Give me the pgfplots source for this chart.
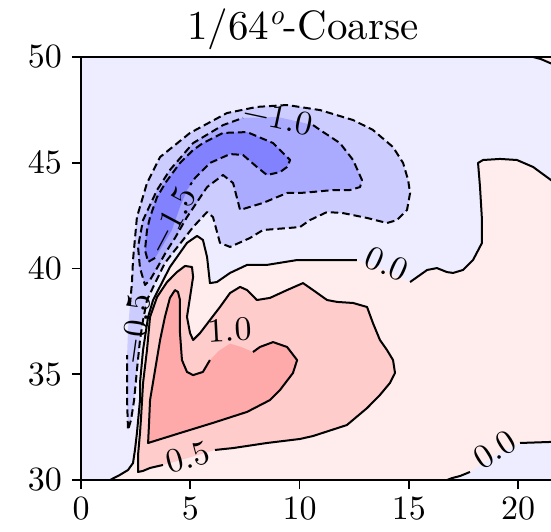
\documentclass[border=0pt]{standalone}
\usepackage{pgfplots}
\pgfplotsset{compat=1.18}
\font\tickf="[lmroman10-regular]" at 34pt
\font\titlef="[lmroman10-regular]" at 41pt
\font\titlesup="[lmroman10-italic]" at 29pt
\definecolor{nbg}{RGB}{237,237,255}
\definecolor{nA}{RGB}{204,204,255}
\definecolor{nB}{RGB}{170,170,255}
\definecolor{nC}{RGB}{130,130,255}
\definecolor{pA}{RGB}{255,237,237}
\definecolor{pB}{RGB}{255,204,204}
\definecolor{pC}{RGB}{255,170,170}
\begin{document}
\begin{tikzpicture}
\begin{axis}[
  name=ax, at={(0,0)}, anchor=south west,
  scale only axis, width=472pt, height=423pt,
  xmin=0, xmax=21.6, ymin=30, ymax=50,
  xtick={0,5,10,15,20}, ytick={30,35,40,45,50},
  xtick pos=left, ytick pos=left,
  tick align=outside, major tick length=9pt,
  tick style={black, line width=1.8pt},
  axis line style={line width=1.8pt},
  /pgf/number format/assume math mode=true,
  ticklabel style={font=\tickf},
  xticklabel style={inner sep=8pt},
  yticklabel style={inner sep=10pt},
  axis on top, no markers,
  title={\titlef 1/64\raisebox{15pt}{\titlesup o}-Coarse},
  title style={at={(0.47,1)}, anchor=base, yshift=11pt, inner sep=0pt},
  cont/.style={black, line width=2pt, line join=round, line cap=butt},
  dcont/.style={black, line width=2pt, line join=round, dash pattern=on 7.5pt off 4pt},
]
% ---------- filled bands ----------
\addplot[draw=none, fill=nbg] coordinates {(0,30) (22,30) (22,50) (0,50)};
% 0.0 contour (positive region)
\addplot[draw=none, fill=pA] coordinates {(1.33,30.0) (1.78,30.24) (2.15,30.47) (2.38,30.80) (2.47,31.42) (2.56,32.22) (2.70,33.78) (2.70,34.59) (2.84,36.15) (3.07,37.71) (3.30,38.51) (4.07,40.07) (4.85,41.21) (5.31,41.54) (5.58,41.35) (5.77,40.54) (5.90,39.31) (6.22,39.36) (6.82,39.79) (7.60,40.17) (8.51,40.17) (9.89,40.40) (11.53,40.40) (12.63,40.40) (13.91,39.93) (15.06,39.36) (15.84,39.93) (16.29,40.02) (16.75,39.83) (17.03,39.79) (17.48,39.93) (17.94,40.40) (18.35,41.21) (18.35,42.29) (18.26,43.85) (18.17,44.99) (18.40,45.13) (19.18,45.18) (19.95,45.13) (20.69,44.80) (21.51,44.18) (22,43.8) (22,31.8) (21.51,31.80) (20.09,31.75) (18.95,31.18) (17.80,30.38) (17.35,30.19) (16.98,30.09) (16.75,30.0)};
\addplot[draw=none, fill=pA] coordinates {(20.69,50) (21.05,49.9) (21.5,49.7) (22,49.5) (22,50)};
% 0.5 contour
\addplot[draw=none, fill=pB] coordinates {(2.61,30.38) (2.84,30.43) (3.16,30.57) (3.75,30.71) (4.90,31.04) (6.13,31.42) (6.96,31.51) (8.51,31.75) (10.02,31.94) (10.62,32.08) (12.17,32.60) (13.09,33.40) (13.68,34.02) (14.14,34.59) (14.37,35.06) (14.28,35.67) (14.00,36.15) (13.68,36.62) (13.36,37.42) (13.09,38.18) (12.45,38.37) (11.72,38.42) (11.26,38.51) (10.62,38.98) (10.16,39.31) (9.43,38.98) (8.65,38.61) (8.05,38.51) (7.60,38.98) (7.28,39.13) (6.82,38.84) (6.36,38.18) (5.90,37.56) (5.45,36.95) (5.13,36.62) (4.99,36.95) (4.85,37.71) (4.99,38.65) (5.13,39.60) (5.08,40.07) (4.76,40.12) (4.39,39.83) (3.94,39.36) (3.48,38.65) (3.16,37.71) (3.02,36.15) (2.84,34.59) (2.75,32.98) (2.70,32.22) (2.61,31.18)};
% 1.0 contour
\addplot[draw=none, fill=pC] coordinates {(3.07,31.75) (3.94,32.03) (4.53,32.22) (6.04,32.70) (7.60,33.22) (8.65,33.78) (9.11,34.26) (9.70,35.06) (9.89,35.67) (9.43,36.29) (8.79,36.52) (8.19,36.29) (7.87,36.05) (7.3,36.3) (6.82,36.45) (6.3,36.1) (5.90,35.67) (5.58,35.11) (5.13,34.96) (4.85,35.11) (4.62,35.67) (4.53,36.95) (4.53,38.51) (4.44,38.89) (4.30,38.98) (4.07,38.61) (3.84,37.71) (3.62,36.62) (3.39,35.20) (3.16,33.78) (3.11,32.60)};
% -0.5 contour
\addplot[draw=none, fill=nA] coordinates {(2.15,32.36) (2.11,33.78) (2.11,34.59) (2.11,35.91) (2.15,37.09) (2.24,38.27) (2.33,39.31) (2.38,40.40) (2.56,42.43) (3.02,44.04) (3.62,45.27) (4.99,46.41) (6.68,47.35) (8.05,47.64) (9.43,47.73) (10.94,47.49) (12.45,47.02) (13.36,46.55) (14.28,45.74) (14.74,44.99) (14.97,44.18) (15.06,43.57) (14.92,42.77) (14.46,42.29) (14.00,42.15) (13.09,42.39) (11.99,42.62) (11.26,42.67) (10.48,42.29) (10.02,41.96) (9.43,41.91) (8.33,41.82) (7.73,41.44) (6.82,41.02) (6.36,41.21) (6.04,42.43) (5.77,42.67) (5.13,41.96) (4.67,41.35) (4.30,40.87) (3.84,40.26) (3.39,39.31) (3.02,38.51) (2.84,37.56) (2.70,36.62) (2.56,35.20) (2.43,33.78) (2.29,32.84)};
% -1.0 contour
\addplot[draw=none, fill=nB] coordinates {(2.93,39.22) (2.70,40.02) (2.61,41.02) (2.84,42.29) (3.16,43.00) (3.48,43.71) (4.07,44.66) (5.13,45.93) (6.50,46.78) (7.41,47.12) (9.02,47.16) (10.62,46.78) (10.94,46.55) (11.85,45.93) (12.45,45.13) (12.86,44.18) (12.77,43.85) (12.31,43.71) (11.53,43.71) (10.62,43.62) (10.02,43.57) (9.43,43.57) (8.33,43.10) (7.28,42.77) (6.96,44.04) (6.50,44.42) (5.77,43.85) (4.85,42.43) (4.30,41.44) (3.89,40.78) (3.48,40.02) (3.16,39.46)};
% -1.5 contour
\addplot[draw=none, fill=nC] coordinates {(3.39,40.50) (3.07,40.31) (2.93,40.87) (3.02,41.82) (3.16,42.43) (3.48,43.38) (3.89,44.09) (4.53,44.99) (5.13,45.60) (5.58,45.93) (6.50,46.41) (7.60,46.45) (8.79,45.93) (9.57,45.13) (9.43,44.80) (9.11,44.56) (8.51,44.42) (8.05,44.80) (7.41,45.37) (6.82,45.41) (5.90,44.99) (5.22,44.28) (4.85,43.71) (4.53,42.91) (4.16,41.82) (3.75,41.11)};
% ---------- contour lines ----------
\addplot[cont] coordinates {(1.33,30.0) (1.78,30.24) (2.15,30.47) (2.38,30.80) (2.47,31.42) (2.56,32.22) (2.70,33.78) (2.70,34.59) (2.84,36.15) (3.07,37.71) (3.30,38.51) (4.07,40.07) (4.85,41.21) (5.31,41.54) (5.58,41.35) (5.77,40.54) (5.90,39.31) (6.22,39.36) (6.82,39.79) (7.60,40.17) (8.51,40.17) (9.89,40.40) (11.53,40.40) (12.63,40.40)};
\addplot[cont] coordinates {(15.06,39.36) (15.84,39.93) (16.29,40.02) (16.75,39.83) (17.03,39.79) (17.48,39.93) (17.94,40.40) (18.35,41.21) (18.35,42.29) (18.26,43.85) (18.17,44.99) (18.40,45.13) (19.18,45.18) (19.95,45.13) (20.69,44.80) (21.51,44.18) (22,43.8)};
\addplot[cont] coordinates {(16.75,30.0) (16.98,30.09) (17.35,30.19) (17.80,30.38)};
\addplot[cont] coordinates {(20.09,31.75) (21.51,31.80) (22,31.8)};
\addplot[cont] coordinates {(20.69,50) (21.05,49.9) (21.5,49.7) (22,49.5)};
\addplot[cont] coordinates {(6.13,31.42) (6.96,31.51) (8.51,31.75) (10.02,31.94) (10.62,32.08) (12.17,32.60) (13.09,33.40) (13.68,34.02) (14.14,34.59) (14.37,35.06) (14.28,35.67) (14.00,36.15) (13.68,36.62) (13.36,37.42) (13.09,38.18) (12.45,38.37) (11.72,38.42) (11.26,38.51) (10.62,38.98) (10.16,39.31) (9.43,38.98) (8.65,38.61) (8.05,38.51) (7.60,38.98) (7.28,39.13) (6.82,38.84) (6.36,38.18) (5.90,37.56) (5.45,36.95) (5.13,36.62) (4.99,36.95) (4.85,37.71) (4.99,38.65) (5.13,39.60) (5.08,40.07) (4.76,40.12) (4.39,39.83) (3.94,39.36) (3.48,38.65) (3.16,37.71) (3.02,36.15) (2.84,34.59) (2.75,32.98) (2.70,32.22) (2.61,31.18) (2.61,30.38) (2.84,30.43) (3.16,30.57) (3.75,30.71)};
\addplot[cont] coordinates {(5.90,35.67) (5.58,35.11) (5.13,34.96) (4.85,35.11) (4.62,35.67) (4.53,36.95) (4.53,38.51) (4.44,38.89) (4.30,38.98) (4.07,38.61) (3.84,37.71) (3.62,36.62) (3.39,35.20) (3.16,33.78) (3.11,32.60) (3.07,31.75) (3.94,32.03) (4.53,32.22) (6.04,32.70) (7.60,33.22) (8.65,33.78) (9.11,34.26) (9.70,35.06) (9.89,35.67) (9.43,36.29) (8.79,36.52) (8.19,36.29) (7.87,36.05)};
\addplot[dcont] coordinates {(2.24,38.27) (2.33,39.31) (2.38,40.40) (2.56,42.43) (3.02,44.04) (3.62,45.27) (4.99,46.41) (6.68,47.35) (8.05,47.64) (9.43,47.73) (10.94,47.49) (12.45,47.02) (13.36,46.55) (14.28,45.74) (14.74,44.99) (14.97,44.18) (15.06,43.57) (14.92,42.77) (14.46,42.29) (14.00,42.15) (13.09,42.39) (11.99,42.62) (11.26,42.67) (10.48,42.29) (10.02,41.96) (9.43,41.91) (8.33,41.82) (7.73,41.44) (6.82,41.02) (6.36,41.21) (6.04,42.43) (5.77,42.67) (5.13,41.96) (4.67,41.35) (4.30,40.87) (3.84,40.26) (3.39,39.31) (3.02,38.51) (2.84,37.56) (2.70,36.62) (2.56,35.20) (2.43,33.78) (2.29,32.84) (2.15,32.36) (2.11,33.78) (2.11,34.59) (2.11,35.91)};
\addplot[dcont] coordinates {(10.62,46.78) (10.94,46.55) (11.85,45.93) (12.45,45.13) (12.86,44.18) (12.77,43.85) (12.31,43.71) (11.53,43.71) (10.62,43.62) (10.02,43.57) (9.43,43.57) (8.33,43.10) (7.28,42.77) (6.96,44.04) (6.50,44.42) (5.77,43.85) (4.85,42.43) (4.30,41.44) (3.89,40.78) (3.48,40.02) (3.16,39.46) (2.93,39.22) (2.70,40.02) (2.61,41.02) (2.84,42.29) (3.16,43.00) (3.48,43.71) (4.07,44.66) (5.13,45.93) (6.50,46.78) (7.41,47.12)};
\addplot[dcont] coordinates {(3.39,40.50) (3.07,40.31) (2.93,40.87) (3.02,41.82) (3.16,42.43) (3.48,43.38) (3.89,44.09) (4.53,44.99) (5.13,45.60) (5.58,45.93) (6.50,46.41) (7.60,46.45) (8.79,45.93) (9.57,45.13) (9.43,44.80) (9.11,44.56) (8.51,44.42) (8.05,44.80) (7.41,45.37) (6.82,45.41) (5.90,44.99) (5.22,44.28) (5.0,43.95)};
% ---------- contour labels ----------
\node[font=\tickf, inner sep=0pt, rotate=15] at (axis cs:4.90,31.06) {0.5};
\node[font=\tickf, inner sep=0pt, rotate=3] at (axis cs:6.82,37.09) {1.0};
\node[font=\tickf, inner sep=0pt, rotate=-24] at (axis cs:14.00,40.21) {0.0};
\node[font=\tickf, inner sep=0pt, rotate=32] at (axis cs:18.95,31.42) {0.0};
\node[font=\tickf, inner sep=0pt, rotate=-12] at (axis cs:9.02,47.12) {−1.0};
\node[font=\tickf, inner sep=0pt, rotate=62] at (axis cs:4.14,42.29) {−1.5};
\node[font=\tickf, inner sep=0pt, rotate=82] at (axis cs:2.50,37.14) {−0.5};
\end{axis}
\pgfresetboundingbox
\path[use as bounding box] ([shift={(-81pt,-52pt)}]ax.south west) rectangle ([shift={(470pt,480pt)}]ax.south west);
\end{tikzpicture}
\end{document}
